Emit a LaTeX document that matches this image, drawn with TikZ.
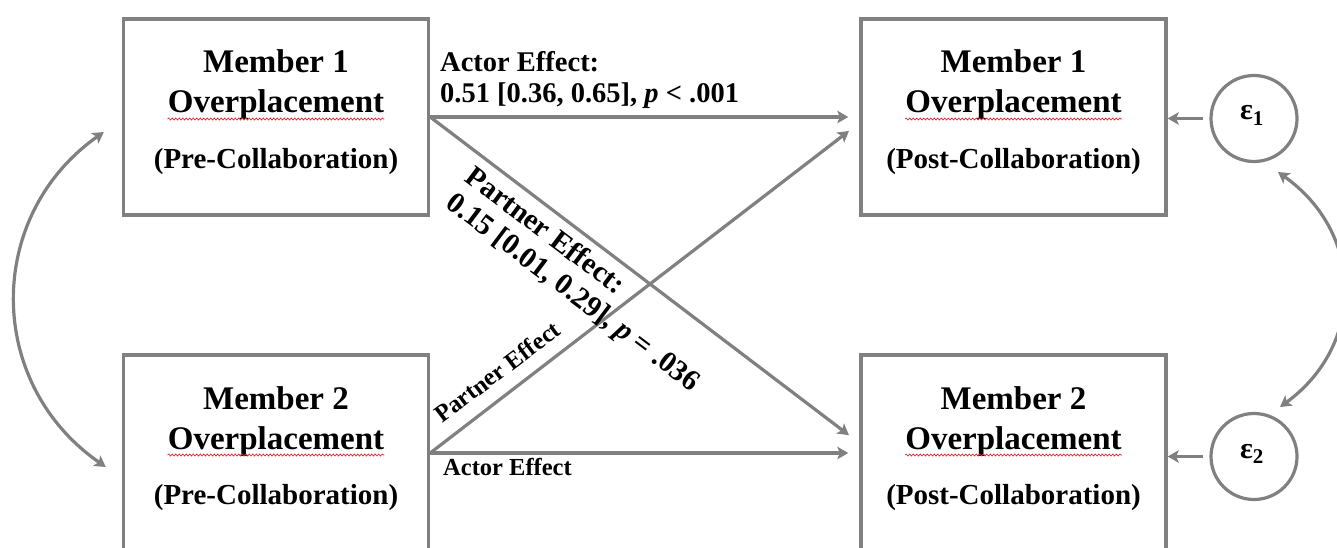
\documentclass[tikz,border=0pt]{standalone}
\usepackage{fontspec}
\setmainfont{Liberation Serif}
\usetikzlibrary{arrows.meta,calc,decorations.pathmorphing}
\definecolor{lgray}{RGB}{128,128,128}
\definecolor{wavy}{RGB}{232,40,40}
\begin{document}
\begin{tikzpicture}[x=1pt,y=-1pt,
  box/.style={draw=lgray,line width=3.4pt,minimum width=305pt,minimum height=196pt,inner sep=0pt},
  errc/.style={draw=lgray,line width=3.2pt,circle,minimum size=86pt,inner sep=0pt},
  ttl/.style={font=\bfseries\fontsize{33}{36}\selectfont,anchor=base,inner sep=0pt},
  sbt/.style={font=\bfseries\fontsize{29}{32}\selectfont,anchor=base,inner sep=0pt},
  lab/.style={font=\bfseries\fontsize{28.5}{32}\selectfont,anchor=base west,inner sep=0pt},
  plab/.style={font=\bfseries\fontsize{29.5}{32.4}\selectfont,align=left,anchor=north west,inner sep=0pt,rotate=-37},
  slab/.style={font=\bfseries\fontsize{24.5}{28}\selectfont,anchor=base west,inner sep=0pt},
  eps/.style={font=\bfseries\fontsize{30}{32}\selectfont,anchor=base,inner sep=0pt},
  tipA/.tip={Stealth[length=11pt,width=12.5pt,inset=2.5pt]},
  arr/.style={draw=lgray,line width=3.2pt,-tipA},
  darr/.style={draw=lgray,line width=3.2pt,tipA-tipA},
  spell/.style={draw=wavy,line width=0.7pt,decorate,decoration={snake,amplitude=1pt,segment length=3.5pt}}
]
\useasboundingbox (0,0) rectangle (1337,548);
\clip (0,0) rectangle (1337,548);

% boxes
\node[box] (TL) at (276,117) {};
\node[box] (BL) at (276,453) {};
\node[box] (TR) at (1013.5,117) {};
\node[box] (BR) at (1013.5,453) {};

% box texts
\node[ttl] (TLa) at (276,73) {Member 1};
\node[ttl] (TLb) at (276,113) {Overplacement};
\node[sbt] (TLc) at (276,168) {(Pre-Collaboration)};
\node[ttl] (BLa) at (276,409) {Member 2};
\node[ttl] (BLb) at (276,449) {Overplacement};
\node[sbt] (BLc) at (276,504) {(Pre-Collaboration)};
\node[ttl] (TRa) at (1013.5,73) {Member 1};
\node[ttl] (TRb) at (1013.5,113) {Overplacement};
\node[sbt] (TRc) at (1013.5,168) {(Post-Collaboration)};
\node[ttl] (BRa) at (1013.5,409) {Member 2};
\node[ttl] (BRb) at (1013.5,449) {Overplacement};
\node[sbt] (BRc) at (1013.5,504) {(Post-Collaboration)};

% spell-check underlines
\foreach \n in {TLb,BLb,TRb,BRb}{
  \draw[spell] ($(\n.base west)+(0,6)$) -- ($(\n.base east)+(0,6)$);
}

% error terms
\node[errc] (E1) at (1254,118.5) {};
\node[errc] (E2) at (1254,456.5) {};
\node[eps] (E1t) at (1252,120) {ε\textsubscript{1}};
\node[eps] (E2t) at (1252,458) {ε\textsubscript{2}};

% paths
\draw[arr,shorten >=11pt] (TL.east) -- (TR.west);
\draw[arr,shorten >=13pt] (TL.east) -- ($(BR.west)+(0,-10)$);
\draw[arr,shorten >=13pt] (BL.east) -- ($(TR.west)+(0,6)$);
\draw[arr,shorten >=11pt] (BL.east) -- (BR.west);

\draw[arr,shorten <=6pt] (E1.west) -- (E1.west -| TR.east);
\draw[arr,shorten <=6pt] (E2.west) -- (E2.west -| BR.east);

% covariances
\draw[darr] ($(TL.west)+(-18,15)$) .. controls (-15,216) and (-15,383) .. ($(BL.west)+(-16,14)$);
\draw[darr] ($(E1)+(24,53.5)$) .. controls (1365,234) and (1365,345) .. ($(E2)+(26,-49.5)$);

% labels
\node[lab] (AE1) at (440,72) {Actor Effect:};
\node[lab] (AE2) at (440,103) {0.51 [0.36, 0.65], \textit{p} < .001};
\node[plab] (PE) at (476.3,163.7) {Partner Effect:\\0.15 [0.01, 0.29], \textit{p} = .036};
\node[slab,rotate=37] (PE3) at (442,424) {Partner Effect};
\node[slab] (AE3) at (443,475) {Actor Effect};
\end{tikzpicture}
\end{document}
